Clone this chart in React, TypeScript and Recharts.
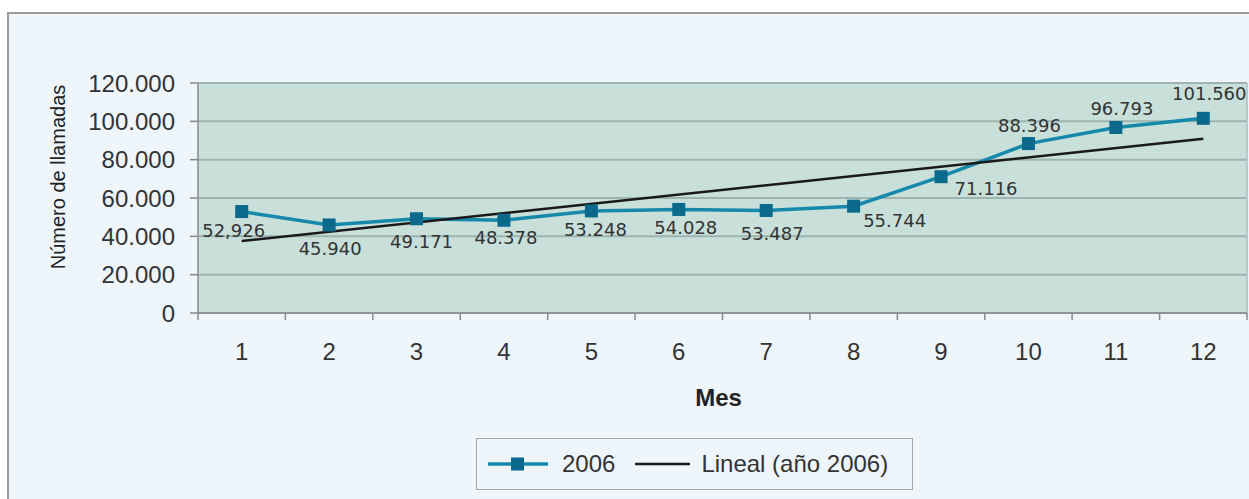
import React from "react";
import { LineChart, Line, XAxis, YAxis, CartesianGrid, Legend, LabelList, ReferenceLine, Label } from "recharts";

const months = [1, 2, 3, 4, 5, 6, 7, 8, 9, 10, 11, 12];
const calls2006 = [52926, 45940, 49171, 48378, 53248, 54028, 53487, 55744, 71116, 88396, 96793, 101560];
const callLabels = ["52,926", "45.940", "49.171", "48.378", "53.248", "54.028", "53.487", "55.744", "71.116", "88.396", "96.793", "101.560"];
// linear trend, only the two ends are needed
const trend2006 = [37543, null, null, null, null, null, null, null, null, null, null, 90922];
const yTicks = [0, 20000, 40000, 60000, 80000, 100000, 120000];
const yTickLabels = ["0", "20.000", "40.000", "60.000", "80.000", "100.000", "120.000"];

const data = months.map((m, i) => ({ month: m, calls: calls2006[i], trend: trend2006[i], label: callLabels[i] }));

// tick marks sit between months, labels on the months
const xTicks = [0.5, ...months.flatMap((m) => [m, m + 0.5])];

// where each value label sits relative to its marker (dx, dy)
const labelOffsets = [
  [-8, 19], [1, 24], [5, 23], [2, 17], [4, 19], [7, 18],
  [6, 23], [41, 14], [45, 12], [1, -18], [6, -19], [6, -25],
];

const FONT = "'Liberation Sans', Arial, sans-serif";
const LINE_BLUE = "#1689ab";
const MARKER_BLUE = "#0b6a8b";
const TICK_GAP = 30;

const MonthTick = (props: any) => {
  const { x, y, payload } = props;
  const v = payload.value;
  if (Number.isInteger(v)) {
    return (
      <text x={x} y={y} dy="0.71em" textAnchor="middle" fontSize={24} fill="#333" fontFamily={FONT}>
        {v}
      </text>
    );
  }
  const axisY = y - TICK_GAP;
  return <line x1={x} x2={x} y1={axisY} y2={axisY + 7} stroke="#8a8a8a" strokeWidth={1.5} />;
};

const SquareDot = (props: any) => {
  const { cx, cy, index } = props;
  if (cx == null || cy == null) return <g key={`d${index}`} />;
  return <rect key={`d${index}`} x={cx - 6.5} y={cy - 6.5} width={13} height={13} fill={MARKER_BLUE} />;
};

const ValueLabel = (props: any) => {
  const { x, y, index, value } = props;
  const [dx, dy] = labelOffsets[index] || [0, 20];
  return (
    <text
      x={x + dx}
      y={y + dy}
      textAnchor="middle"
      dominantBaseline="central"
      fontSize={18}
      fill="#333"
      fontFamily="'DejaVu Sans', Verdana, sans-serif"
    >
      {value}
    </text>
  );
};

const LegendBox = () => (
  <div
    style={{
      width: 437,
      height: 52,
      boxSizing: "border-box",
      border: "1px solid #a8a8a8",
      background: "#eef5fb",
      display: "flex",
      alignItems: "center",
      paddingLeft: 11,
      fontFamily: FONT,
      fontSize: 24,
      color: "#333",
    }}
  >
    <svg width={60} height={20}>
      <line x1={0} x2={60} y1={10} y2={10} stroke={LINE_BLUE} strokeWidth={3.5} />
      <rect x={23} y={3.5} width={13} height={13} fill={MARKER_BLUE} />
    </svg>
    <span style={{ marginLeft: 14 }}>2006</span>
    <svg width={55} height={20} style={{ marginLeft: 20 }}>
      <line x1={0} x2={55} y1={10} y2={10} stroke="#1a1a1a" strokeWidth={2.5} />
    </svg>
    <span style={{ marginLeft: 11 }}>Lineal (año 2006)</span>
  </div>
);

export default function App() {
  return (
    <div style={{ position: "absolute", left: 0, top: 0, width: 1249, height: 499, overflow: "hidden", background: "#ffffff" }}>
      <div
        style={{
          position: "absolute",
          left: 7,
          top: 12,
          width: 1260,
          height: 500,
          borderLeft: "2px solid #9a9a9a",
          borderTop: "2px solid #9a9a9a",
          background: "#eef5fb",
        }}
      />
      <div style={{ position: "absolute", left: 0, top: 0 }}>
        <LineChart width={1249} height={499} data={data} margin={{ top: 83, right: 2, bottom: 9, left: 0 }}>
          <CartesianGrid vertical={false} fill="#c8dfda" stroke="#9db4b0" strokeWidth={2} />
          <XAxis
            type="number"
            dataKey="month"
            domain={[0.5, 12.5]}
            ticks={xTicks}
            interval={0}
            allowDecimals
            tickLine={false}
            tickSize={0}
            tickMargin={TICK_GAP}
            tick={<MonthTick />}
            height={125}
            axisLine={{ stroke: "#8a8a8a", strokeWidth: 1.5 }}
          >
            <Label
              value="Mes"
              position="insideTop"
              offset={76}
              dx={-4}
              style={{ fontSize: 24, fontWeight: "bold", fill: "#222", fontFamily: FONT }}
            />
          </XAxis>
          <YAxis
            domain={[0, 120000]}
            ticks={yTicks}
            interval={0}
            width={198}
            tickSize={8}
            tickMargin={15}
            tickFormatter={(v: number) => yTickLabels[yTicks.indexOf(v)]}
            tick={{ fontSize: 24, fill: "#333", fontFamily: FONT }}
            tickLine={{ stroke: "#8a8a8a", strokeWidth: 1.5 }}
            axisLine={{ stroke: "#8a8a8a", strokeWidth: 1.5 }}
          >
            <Label
              content={({ viewBox }: any) => {
                const { x, y, height } = viewBox;
                const cx = x + 58;
                const cy = y + height / 2 - 21;
                return (
                  <text
                    transform={`translate(${cx},${cy}) rotate(-90)`}
                    textAnchor="middle"
                    dominantBaseline="central"
                    fontSize={20}
                    fill="#222"
                    fontFamily={FONT}
                  >
                    Número de llamadas
                  </text>
                );
              }}
            />
          </YAxis>
          <ReferenceLine x={12.5} stroke="#aebfbc" strokeWidth={1.5} />
          <Line
            dataKey="calls"
            stroke={LINE_BLUE}
            strokeWidth={3.5}
            dot={SquareDot}
            activeDot={false}
            isAnimationActive={false}
            legendType="none"
          >
            <LabelList dataKey="label" content={ValueLabel} />
          </Line>
          <Line
            dataKey="trend"
            stroke="#1a1a1a"
            strokeWidth={2.5}
            dot={false}
            activeDot={false}
            connectNulls
            isAnimationActive={false}
          />
          <Legend
            verticalAlign="bottom"
            width={437}
            content={LegendBox}
            wrapperStyle={{ left: 476, bottom: 9, width: 437 }}
          />
        </LineChart>
      </div>
    </div>
  );
}
